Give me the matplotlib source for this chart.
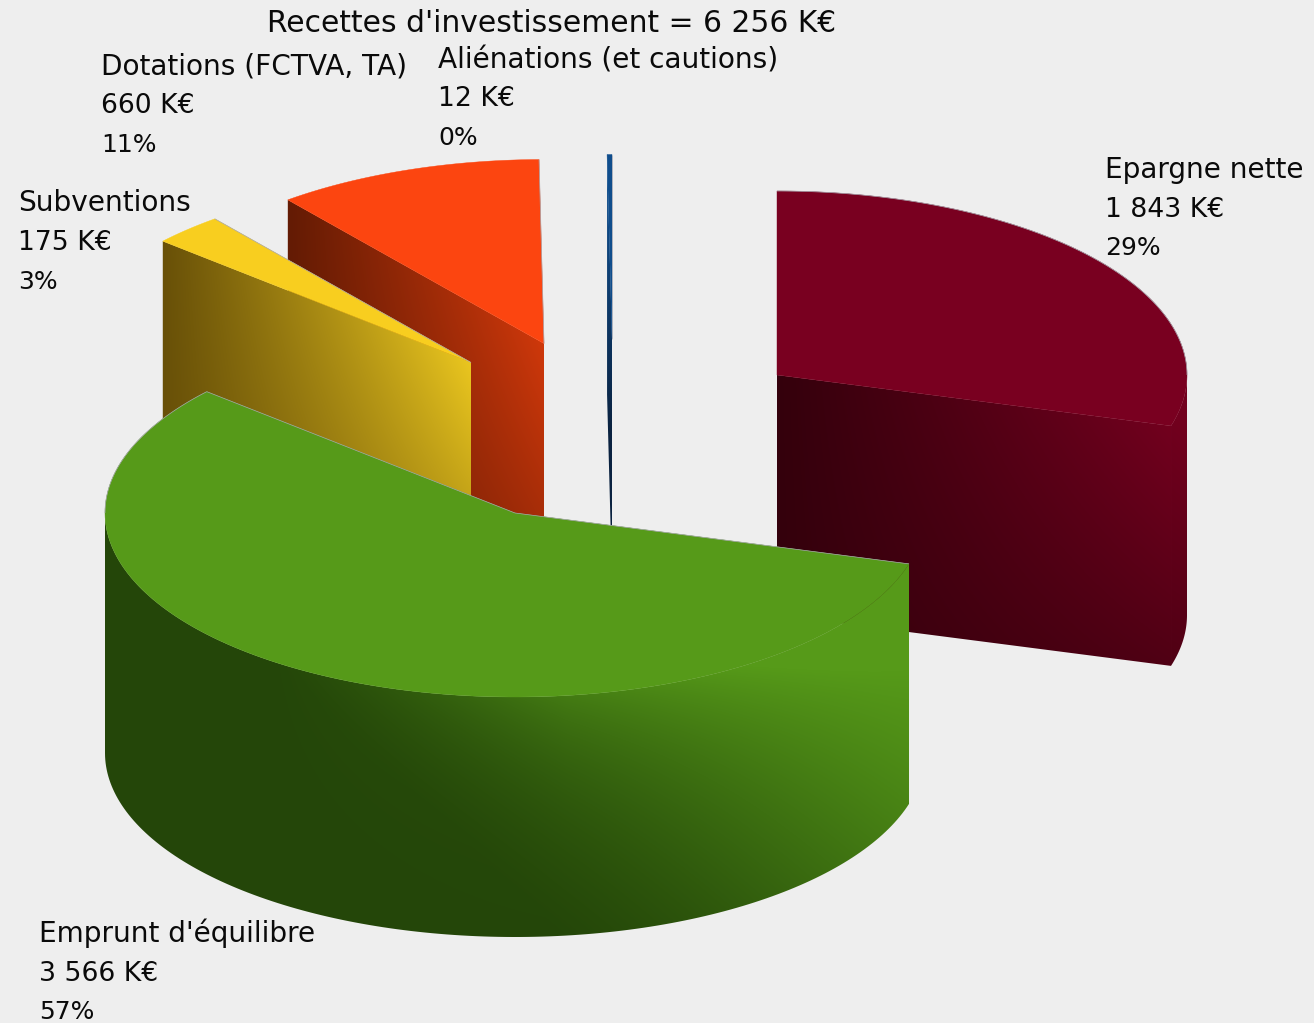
import numpy as np
import matplotlib
matplotlib.use("Agg")
import matplotlib.pyplot as plt
from matplotlib.patches import Polygon
from matplotlib.colors import to_rgb

# ---- data ----
categories = ["Epargne nette", "Emprunt d'équilibre", "Subventions", "Dotations (FCTVA, TA)", "Aliénations (et cautions)"]
values = [1843, 3566, 175, 660, 12]
amount_labels = ["1 843 K€", "3 566 K€", "175 K€", "660 K€", "12 K€"]
percent_labels = ["29%", "57%", "3%", "11%", "0%"]
title = "Recettes d'investissement = 6 256 K€"

# ---- style ----
top_colors = ["#790020", "#569A19", "#F8CE1F", "#FC4510", "#0F4D8C"]
wall_dark = ["#34000C", "#244609", "#685008", "#631B04", "#0A2240"]
wall_light = ["#72001E", "#569A19", "#EAC61F", "#CF380B", "#0F4D8C"]
wall_fall = [0.55, 0.0, 0.5, 0.5, 0.0]

# ---- layout (pixels of the figure) ----
W, H = 1314, 1023
centers = [(777, 375), (515, 513), (471, 362.5), (544, 343.5), (612, 338.5)]
RX, RY, DEPTH = 410, 184, 240
label_x = [1105, 39, 18, 101, 438]
label_y = [[178, 217, 255], [942, 981, 1019], [211, 250, 289], [74, 113, 152], [68, 106, 145]]
BG = "#EEEEEE"
EDGE = "#A8A8B0"
FONT = "DejaVu Sans"

fig = plt.figure(figsize=(W / 100, H / 100), dpi=100, facecolor=BG)
ax = fig.add_axes([0, 0, 1, 1])
ax.set_xlim(0, W)
ax.set_ylim(H, 0)
ax.axis("off")


def rim(c, a0, a1, n=160):
    a = np.radians(np.linspace(a0, a1, n))
    return np.column_stack([c[0] + RX * np.cos(a), c[1] - RY * np.sin(a)])


def shade(poly, color_fn, zorder):
    xs, ys = poly[:, 0], poly[:, 1]
    x0, x1 = np.floor(xs.min()) - 1, np.ceil(xs.max()) + 1
    y0, y1 = np.floor(ys.min()) - 1, np.ceil(ys.max()) + 1
    gx, gy = np.meshgrid(np.arange(x0, x1) + .5, np.arange(y0, y1) + .5)
    img = color_fn(gx, gy)
    patch = Polygon(poly, closed=True, transform=ax.transData, fc="none", ec="none")
    ax.add_patch(patch)
    im = ax.imshow(img, extent=(x0, x1, y1, y0), zorder=zorder, interpolation="bilinear", aspect="auto")
    im.set_clip_path(patch)
    ax.set_xlim(0, W)
    ax.set_ylim(H, 0)


def ramp(dark, light):
    d, l = np.array(to_rgb(dark)), np.array(to_rgb(light))
    def f(t):
        return d + (l - d) * np.clip(t, 0, 1)[..., None]
    return f


def green_wall(col, c):
    def fn(gx, gy):
        lin = np.clip((0.69 * (gx - 267) - 0.72 * (gy - 650)) / 478, 0, 1)
        smooth = lin * lin * (3 - 2 * lin)
        rim_y = c[1] + RY * np.sqrt(np.clip(1 - ((gx - c[0]) / RX) ** 2, 0, 1))
        glow = 0.3 * np.exp(-np.clip(gy - rim_y, 0, None) / 70) * np.clip((gx - 267) / 300, 0, 1)
        return col(0.5 * lin + 0.5 * smooth + glow)
    return fn


# slice angles: clockwise from 12 o'clock
fractions = np.array(values, float) / np.sum(values)
bounds = 90 - 360 * np.concatenate([[0], np.cumsum(fractions)])
draw_order = [4, 3, 2, 0, 1]

for rank, i in enumerate(draw_order):
    a0, a1 = bounds[i], bounds[i + 1]
    c = centers[i]
    z = 2 + rank * 3
    col = ramp(wall_dark[i], wall_light[i])
    top = np.vstack([[c], rim(c, a0, a1)])
    walled = []

    # flat walls cut along the radii, the ones facing the viewer
    for edge_angle, normal in ((a0, a0 + 90), (a1, a1 - 90)):
        if np.sin(np.radians(normal)) < -1e-6:
            walled.append(edge_angle)
            p = rim(c, edge_angle, edge_angle, 1)[0]
            poly = np.array([p, c, (c[0], c[1] + DEPTH), (p[0], p[1] + DEPTH)])
            span = max(abs(c[0] - p[0]), 1)
            xa = min(c[0], p[0])
            slope = (c[1] - p[1]) / (c[0] - p[0]) if abs(c[0] - p[0]) > 1 else 0
            if i == 4:
                fn = lambda gx, gy, col=col: col(1 - (gy - 200) / 230)
            else:
                fn = lambda gx, gy, col=col, xa=xa, span=span, p=p, slope=slope, fall=wall_fall[i]: col(
                    (gx - xa) / span * (1 - fall * (gy - (p[1] + slope * (gx - p[0]))) / DEPTH))
            shade(poly, fn, z)

    # curved outer wall, front part only
    lo, hi = max(a1, -180), min(a0, 0)
    if hi > lo:
        arc = rim(c, hi, lo)
        poly = np.vstack([arc, arc[::-1] + [0, DEPTH]])
        if i == 1:
            fn = green_wall(col, c)
        else:
            fn = lambda gx, gy, col=col, xa=c[0], span=RX, fall=wall_fall[i]: col(
                (gx - xa) / span * (1 - fall * (gy - 430) / DEPTH))
        shade(poly, fn, z + 1)

    ax.add_patch(Polygon(top, closed=True, fc=top_colors[i], ec=top_colors[i], lw=0.3, zorder=z + 2))

    # thin light outline only where the face meets the background
    back = rim(c, a0, max(a1, 0) if a0 > 0 else a0, 120) if a0 > 0 else None
    if i == 1:
        back = rim(c, -180, a1, 80)
    outline = [back] if back is not None else []
    for edge_angle in (a0, a1):
        if edge_angle not in walled and not (i == 0 and edge_angle == a0):
            outline.append(np.vstack([rim(c, edge_angle, edge_angle, 1), [c]]))
    for seg in outline:
        ax.plot(seg[:, 0], seg[:, 1], color=EDGE, lw=0.5, zorder=z + 2.5, solid_capstyle="butt")

# ---- texts ----
ax.text(267, 32, title, fontsize=21.4, family=FONT, color="#0A0A0A", va="baseline", ha="left", zorder=40)
for name, amount, pct, x, ys in zip(categories, amount_labels, percent_labels, label_x, label_y):
    ax.text(x, ys[0], name, fontsize=20.2, family=FONT, color="#0A0A0A", va="baseline", ha="left", zorder=40)
    ax.text(x, ys[1], amount, fontsize=19.2, family=FONT, color="#0A0A0A", va="baseline", ha="left", zorder=40)
    ax.text(x, ys[2], pct, fontsize=18, family=FONT, color="#0A0A0A", va="baseline", ha="left", zorder=40)

fig.savefig("out.png", dpi=100, facecolor=BG)
